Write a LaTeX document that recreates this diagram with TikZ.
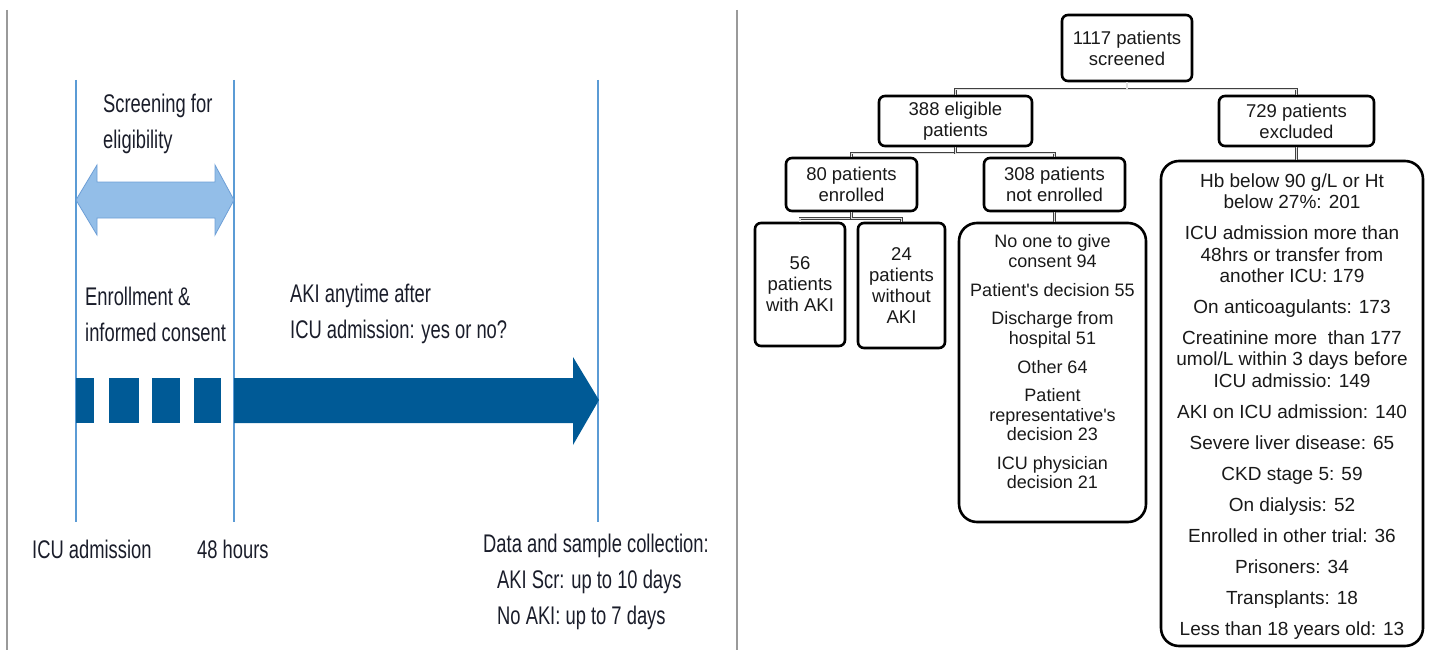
\documentclass[tikz,border=0pt]{standalone}
\usepackage{fontspec}
\setmainfont{Liberation Sans}
\newfontfamily\narrowsans[FakeStretch=0.72]{Liberation Sans}
\usetikzlibrary{positioning}

\definecolor{timelineblue}{HTML}{005A96}
\definecolor{screenblue}{HTML}{93BEE8}
\definecolor{screenedge}{HTML}{6E9FD6}
\definecolor{markerblue}{HTML}{5B9BD5}
\definecolor{inkdark}{HTML}{1A1D2A}
\definecolor{framegray}{HTML}{9A9A9A}

\newcommand{\timefont}{\narrowsans\fontsize{25.5}{36}\selectfont}
\newcommand{\treefont}{\fontsize{18.5}{21}\selectfont}
\newcommand{\refusalfont}{\fontsize{18}{19.5}\selectfont}
\newcommand{\exclusionfont}{\fontsize{19}{21.3}\selectfont}

\begin{document}
\begin{tikzpicture}[x=1pt,y=-1pt,>=latex]
    \tikzstyle{phase}=[anchor=west, align=left, inner sep=0pt, text=inkdark, font=\timefont]
    \tikzstyle{stage}=[draw, rounded corners=6pt, line width=2.6pt, align=center,
        inner sep=0pt, font=\treefont, text=black!90]
    \tikzstyle{reasons}=[draw, rounded corners=18pt, line width=2.6pt, inner sep=0pt]
    \tikzstyle{reasontext}=[align=center, inner sep=0pt, text=black!90]
    \tikzstyle{link}=[draw=black!75, double=black!12, line width=0.6pt, double distance=1.2pt]
    \tikzstyle{marker}=[markerblue, line width=1.5pt]

    \useasboundingbox (0,0) rectangle (1432,650);

    % Panel frames
    \draw[framegray, line width=2pt] (7,10) -- (7,650);
    \draw[framegray, line width=2pt] (737,10) -- (737,650);

    % Timeline markers
    \foreach \xpos in {76,234,598}
        \draw[marker] (\xpos,80) -- (\xpos,522);

    % Screening window
    \fill[screenblue, draw=screenedge, line width=0.8pt] (76,200) -- (97,165) -- (97,182)
        -- (215,182) -- (215,165) -- (234,200) -- (215,235) -- (215,218) -- (97,218)
        -- (97,235) -- cycle;

    % Enrollment dashes and follow-up arrow
    \foreach \xa/\xb in {76/94,109/139,152/180,194/221}
        \fill[timelineblue] (\xa,378) rectangle (\xb,423);
    \fill[timelineblue] (234,378) -- (573,378) -- (573,357) -- (599,400) -- (573,445)
        -- (573,423) -- (234,423) -- cycle;

    % Timeline labels
    \node[phase] (screening) at (103,124) {Screening for\\eligibility};
    \node[phase] (enrollment) at (85,314) {Enrollment \&\\informed consent};
    \node[phase] (akiwindow) at (290,314) {AKI anytime after\\ICU admission: yes or no?};
    \node[phase] (icuadmit) at (32,549) {ICU admission};
    \node[phase] (fortyeight) at (197,549) {48 hours};
    \node[phase] (collection) at (483,582) {Data and sample collection:\\
        \hspace*{14pt}AKI Scr: up to 10 days\\\hspace*{14pt}No AKI: up to 7 days};

    % Flow of patients
    \node[stage, minimum width=130pt, minimum height=66pt] (screened) at (1127,48)
        {1117 patients\\screened};
    \node[stage, minimum width=153pt, minimum height=50pt] (eligible) at (955.5,121)
        {388 eligible\\patients};
    \node[stage, minimum width=155pt, minimum height=50pt] (excluded) at (1296.5,121)
        {729 patients\\excluded};
    \node[stage, minimum width=131pt, minimum height=53pt] (enrolled) at (851.5,184.5)
        {80 patients\\enrolled};
    \node[stage, minimum width=141pt, minimum height=53pt] (notenrolled) at (1054.5,184.5)
        {308 patients\\not enrolled};
    \node[stage, minimum width=90pt, minimum height=123pt] (withaki) at (800,284.5)
        {56\\patients\\with AKI};
    \node[stage, minimum width=87pt, minimum height=125pt] (withoutaki) at (901.5,285.5)
        {24\\patients\\without\\AKI};

    % Reasons
    \node[reasons, minimum width=187pt, minimum height=299pt] (refusals) at (1052.5,372.5) {};
    \node[reasontext, font=\refusalfont, below=13pt of refusals.north] (refusallist)
        {No one to give\\consent 94\\[9.2pt]
         Patient\textquotesingle s decision 55\\[9.2pt]
         Discharge from\\hospital 51\\[9.2pt]
         Other 64\\[9.2pt]
         Patient\\representative\textquotesingle s\\decision 23\\[9.2pt]
         ICU physician\\decision 21};
    \node[reasons, minimum width=262pt, minimum height=485pt] (exclusions) at (1292,403.5) {};
    \node[reasontext, font=\exclusionfont, below=14pt of exclusions.north] (exclusionlist)
        {Hb below 90 g/L or Ht\\below 27\%: 201\\[9.7pt]
         ICU admission more than\\48hrs or transfer from\\another ICU: 179\\[9.7pt]
         On anticoagulants: 173\\[9.7pt]
         Creatinine more\ \ than 177\\umol/L within 3 days before\\ICU admissio: 149\\[9.7pt]
         AKI on ICU admission: 140\\[9.7pt]
         Severe liver disease: 65\\[9.7pt]
         CKD stage 5: 59\\[9.7pt]
         On dialysis: 52\\[9.7pt]
         Enrolled in other trial: 36\\[9.7pt]
         Prisoners: 34\\[9.7pt]
         Transplants: 18\\[9.7pt]
         Less than 18 years old: 13};

    % Links
    \draw[link] (screened.south) -- ++(0,7) -| (eligible.north);
    \draw[link] (screened.south) -- ++(0,7) -| (excluded.north);
    \draw[link] (eligible.south) -- ++(0,6) -| (enrolled.north);
    \draw[link] (eligible.south) -- ++(0,6) -| (notenrolled.north);
    \draw[link] (enrolled.south) -- ++(0,6) -| (withaki.north);
    \draw[link] (enrolled.south) -- ++(0,6) -| (withoutaki.north);
    \draw[link] (notenrolled.south) -- (notenrolled.south |- refusals.north);
    \draw[link] (excluded.south) -- (excluded.south |- exclusions.north);
\end{tikzpicture}
\end{document}
